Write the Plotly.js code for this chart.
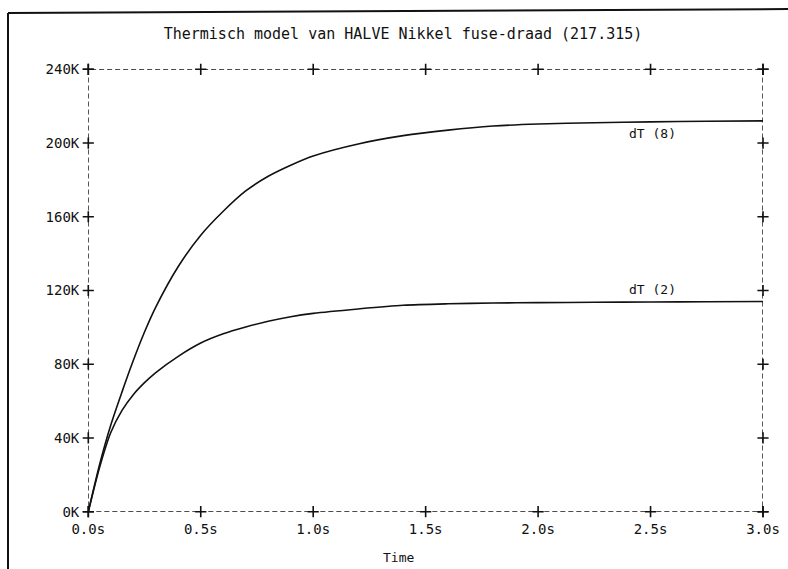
<!DOCTYPE html>
<html>
<head>
<meta charset="utf-8">
<script src="https://cdn.plot.ly/plotly-3.0.1.min.js"></script>
<style>html,body{margin:0;padding:0;background:#fff;}#chart{width:788px;height:569px;}</style>
</head>
<body>
<div id="chart"></div>
<script>
// Time axis (s)
const time = [0, 0.05, 0.1, 0.15, 0.2, 0.25, 0.3, 0.4, 0.5, 0.6, 0.7, 0.8, 0.9, 1.0, 1.2, 1.4, 1.6, 1.8, 2.0, 2.25, 2.5, 2.75, 3.0];
// dT(8) in K
const dT8 = [0, 25500, 47000, 65000, 82000, 97500, 111000, 133000, 150000, 163000, 174000, 182000, 188000, 193000, 199500, 204000, 207000, 209200, 210300, 211000, 211500, 211800, 212000];
// dT(2) in K
const dT2 = [0, 24000, 43000, 55000, 63500, 70000, 75500, 84300, 91500, 96500, 100200, 103300, 105800, 107600, 110000, 112000, 112800, 113200, 113400, 113600, 113800, 113900, 114000];

const xTickVals = [0, 0.5, 1.0, 1.5, 2.0, 2.5, 3.0];
const xTickText = ["0.0s", "0.5s", "1.0s", "1.5s", "2.0s", "2.5s", "3.0s"];
const yTickVals = [0, 40000, 80000, 120000, 160000, 200000, 240000];
const yTickText = ["0K", "40K", "80K", "120K", "160K", "200K", "240K"];

const xMin = 0, xMax = 3.0, yMin = 0, yMax = 240000;

const FONT = "DejaVu Sans Mono, monospace";

// tick crosses along the four sides of the frame
const crossX = [], crossY = [];
xTickVals.forEach(v => { crossX.push(v, v); crossY.push(yMin, yMax); });
yTickVals.forEach(v => { crossX.push(xMin, xMax); crossY.push(v, v); });

const traces = [
  {x: time, y: dT8, type: 'scatter', mode: 'lines', name: 'dT (8)',
   line: {color: '#111', width: 1.6, shape: 'spline', smoothing: 0.8}, hoverinfo: 'x+y'},
  {x: time, y: dT2, type: 'scatter', mode: 'lines', name: 'dT (2)',
   line: {color: '#111', width: 1.6, shape: 'spline', smoothing: 0.8}, hoverinfo: 'x+y'},
  {x: crossX, y: crossY, type: 'scatter', mode: 'markers', hoverinfo: 'skip', cliponaxis: false,
   marker: {symbol: 'cross-thin', size: 8, line: {color: '#111', width: 1.6}}}
];

const W = 788, H = 569;
const px = v => v / W, py = v => 1 - v / H;

const layout = {
  width: W, height: H,
  margin: {l: 0, r: 0, t: 0, b: 0},
  paper_bgcolor: '#fff', plot_bgcolor: '#fff',
  showlegend: false,
  font: {family: FONT, color: '#111', size: 14},
  title: {text: 'Thermisch model van HALVE Nikkel fuse-draad (217.315)',
          x: px(403), xanchor: 'center', y: py(34), yanchor: 'middle', xref: 'paper', yref: 'paper',
          font: {family: FONT, size: 15, color: '#111'}},
  xaxis: {domain: [px(88.3), px(763)], range: [xMin, xMax], showgrid: false, zeroline: false,
          showline: false, ticks: '', tickvals: xTickVals, ticktext: xTickText,
          ticklabelstandoff: 7, tickfont: {family: FONT, size: 14, color: '#111'}, fixedrange: true},
  yaxis: {domain: [1 - 511.7 / H, 1 - 69.3 / H], range: [yMin, yMax], showgrid: false, zeroline: false,
          showline: false, ticks: '', tickvals: yTickVals, ticktext: yTickText,
          ticklabelstandoff: 8, tickfont: {family: FONT, size: 14, color: '#111'}, fixedrange: true},
  shapes: [
    {type: 'rect', xref: 'x', yref: 'y', x0: xMin, x1: xMax, y0: yMin, y1: yMax,
     line: {color: '#111', width: 1.4, dash: '5px,3px'}, layer: 'below'},
    {type: 'line', xref: 'paper', yref: 'paper', x0: px(8), x1: px(800), y0: py(13), y1: py(9),
     line: {color: '#111', width: 2}},
    {type: 'line', xref: 'paper', yref: 'paper', x0: px(8), x1: px(8), y0: py(13), y1: py(580),
     line: {color: '#111', width: 2}}
  ],
  annotations: [
    {text: 'dT (8)', xref: 'paper', yref: 'paper', x: px(652), y: py(134), showarrow: false,
     xanchor: 'center', yanchor: 'middle', font: {family: FONT, size: 13, color: '#111'}},
    {text: 'dT (2)', xref: 'paper', yref: 'paper', x: px(652), y: py(289), showarrow: false,
     xanchor: 'center', yanchor: 'middle', font: {family: FONT, size: 13, color: '#111'}},
    {text: 'Time', xref: 'paper', yref: 'paper', x: px(398), y: py(557), showarrow: false,
     xanchor: 'center', yanchor: 'middle', font: {family: FONT, size: 13, color: '#111'}}
  ]
};

Plotly.newPlot('chart', traces, layout, {staticPlot: true, displayModeBar: false});
</script>
</body>
</html>
